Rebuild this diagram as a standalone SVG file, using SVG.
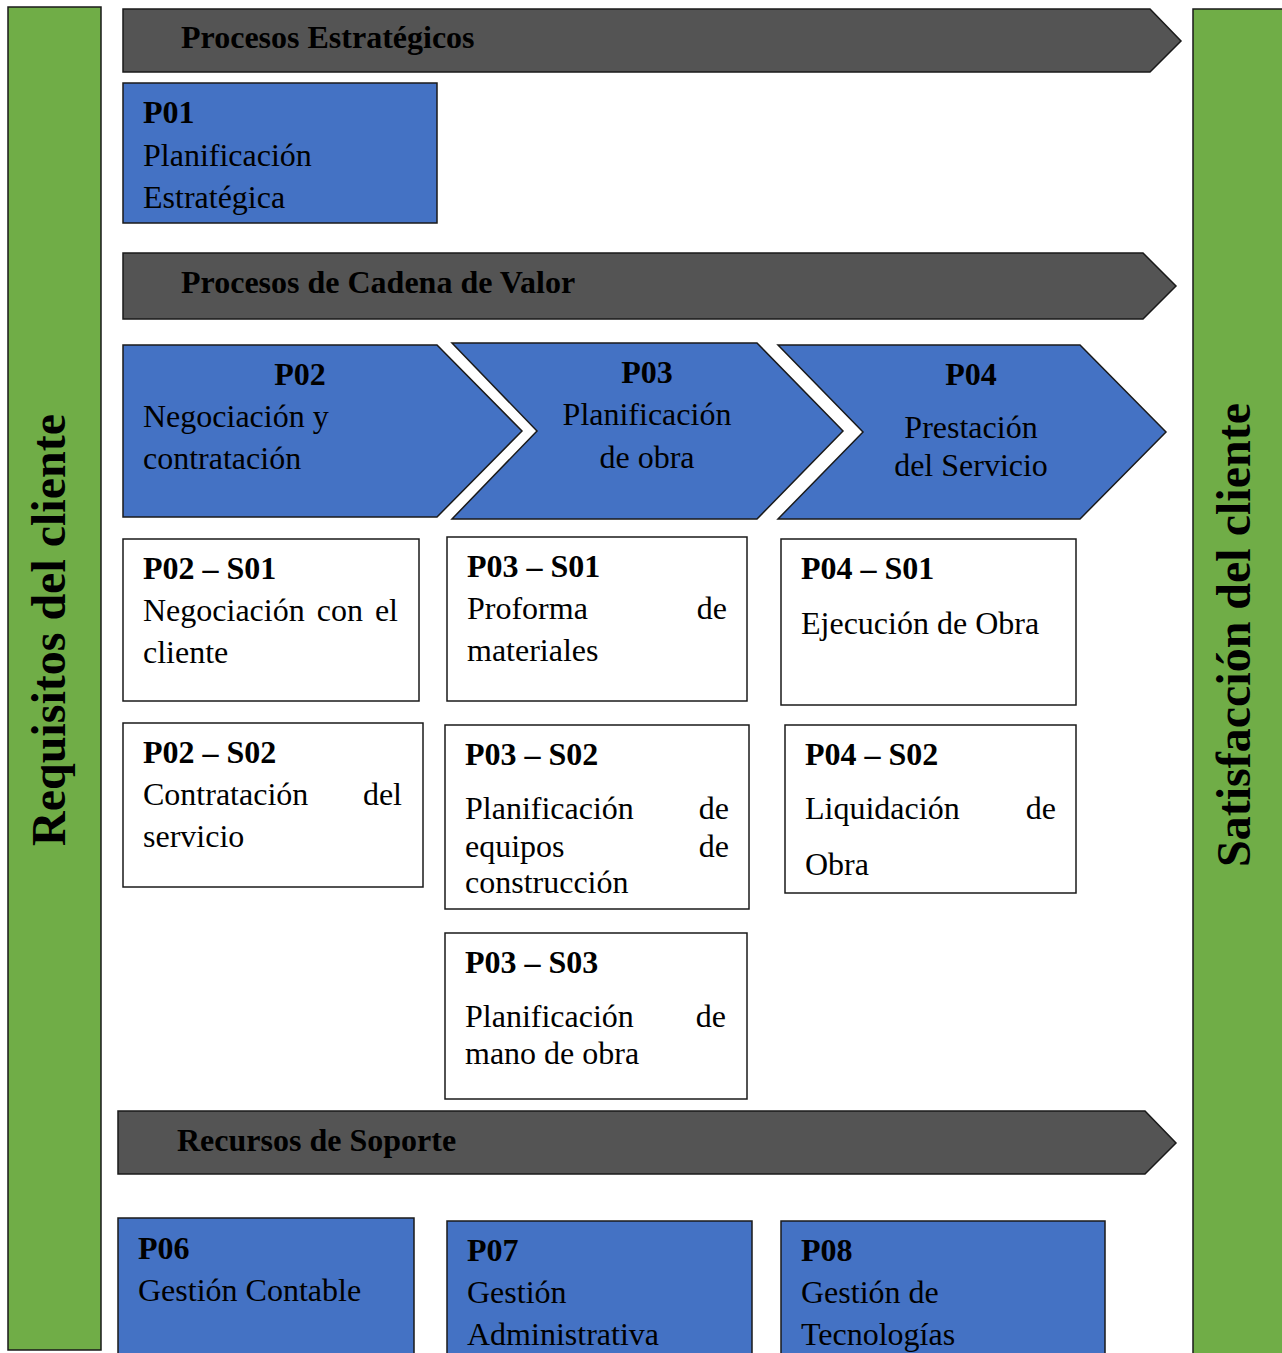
<svg xmlns="http://www.w3.org/2000/svg" width="1282" height="1353" viewBox="0 0 1282 1353">
<style>
text{font-family:"Liberation Serif","Times New Roman",serif;font-size:32px;fill:#000}
.b{font-weight:bold}
.m{text-anchor:middle}
.e{text-anchor:end}
.side{font-weight:bold;font-size:48px;text-anchor:middle}
.green{fill:#70AD47;stroke:#1a1a1a;stroke-width:1.5}
.gray{fill:#545454;stroke:#1a1a1a;stroke-width:1.5}
.blue{fill:#4472C4;stroke:#1a1a1a;stroke-width:1.5}
.white{fill:#fff;stroke:#1a1a1a;stroke-width:1.5}
</style>
<rect width="1282" height="1353" fill="#fff"/>
<g id="requisitos">
<rect class="green" x="8" y="7" width="93" height="1343"/>
<text class="side" transform="translate(65,630) rotate(-90)">Requisitos del cliente</text>
</g>
<g id="satisfaccion">
<rect class="green" x="1193" y="9" width="95" height="1350"/>
<text class="side" transform="translate(1250,635) rotate(-90)">Satisfacción del cliente</text>
</g>
<g id="estrategicos">
<polygon class="gray" points="123,9 1150,9 1181,41 1150,72 123,72"/>
<text class="b" x="181" y="48">Procesos Estratégicos</text>
</g>
<g id="p01">
<rect class="blue" x="123" y="83" width="314" height="140"/>
<text class="b" x="143" y="123">P01</text>
<text x="143" y="166">Planificación</text>
<text x="143" y="208">Estratégica</text>
</g>
<g id="cadena">
<polygon class="gray" points="123,253 1143,253 1176,286 1143,319 123,319"/>
<text class="b" x="181" y="293">Procesos de Cadena de Valor</text>
</g>
<g id="p02">
<polygon class="blue" points="123,345 437,345 522,431 437,517 123,517"/>
<text class="b m" x="300" y="385">P02</text>
<text x="143" y="427">Negociación y</text>
<text x="143" y="469">contratación</text>
</g>
<g id="p03">
<polygon class="blue" points="452,343 757,343 843,431 757,519 452,519 537,431"/>
<text class="b m" x="647" y="383">P03</text>
<text class="m" x="647" y="425">Planificación</text>
<text class="m" x="647" y="468">de obra</text>
</g>
<g id="p04">
<polygon class="blue" points="778,345 1080,345 1166,432 1080,519 778,519 863,432"/>
<text class="b m" x="971" y="385">P04</text>
<text class="m" x="971" y="438">Prestación</text>
<text class="m" x="971" y="476">del Servicio</text>
</g>
<g id="p02-s01">
<rect class="white" x="123" y="539" width="296" height="162"/>
<text class="b" x="143" y="579">P02 – S01</text>
<text x="143" y="621" word-spacing="4">Negociación con el</text>
<text x="143" y="663">cliente</text>
</g>
<g id="p03-s01">
<rect class="white" x="447" y="537" width="300" height="164"/>
<text class="b" x="467" y="577">P03 – S01</text>
<text x="467" y="619">Proforma</text>
<text class="e" x="727" y="619">de</text>
<text x="467" y="661">materiales</text>
</g>
<g id="p04-s01">
<rect class="white" x="781" y="539" width="295" height="166"/>
<text class="b" x="801" y="579">P04 – S01</text>
<text x="801" y="634">Ejecución de Obra</text>
</g>
<g id="p02-s02">
<rect class="white" x="123" y="723" width="300" height="164"/>
<text class="b" x="143" y="763">P02 – S02</text>
<text x="143" y="805">Contratación</text>
<text class="e" x="402" y="805">del</text>
<text x="143" y="847">servicio</text>
</g>
<g id="p03-s02">
<rect class="white" x="445" y="725" width="304" height="184"/>
<text class="b" x="465" y="765">P03 – S02</text>
<text x="465" y="819">Planificación</text>
<text class="e" x="729" y="819">de</text>
<text x="465" y="857">equipos</text>
<text class="e" x="729" y="857">de</text>
<text x="465" y="893">construcción</text>
</g>
<g id="p04-s02">
<rect class="white" x="785" y="725" width="291" height="168"/>
<text class="b" x="805" y="765">P04 – S02</text>
<text x="805" y="819">Liquidación</text>
<text class="e" x="1056" y="819">de</text>
<text x="805" y="875">Obra</text>
</g>
<g id="p03-s03">
<rect class="white" x="445" y="933" width="302" height="166"/>
<text class="b" x="465" y="973">P03 – S03</text>
<text x="465" y="1027">Planificación</text>
<text class="e" x="726" y="1027">de</text>
<text x="465" y="1064">mano de obra</text>
</g>
<g id="soporte">
<polygon class="gray" points="118,1111 1145,1111 1176,1143 1145,1174 118,1174"/>
<text class="b" x="177" y="1151">Recursos de Soporte</text>
</g>
<g id="p06">
<rect class="blue" x="118" y="1218" width="296" height="145"/>
<text class="b" x="138" y="1259">P06</text>
<text x="138" y="1301">Gestión Contable</text>
</g>
<g id="p07">
<rect class="blue" x="447" y="1221" width="305" height="142"/>
<text class="b" x="467" y="1261">P07</text>
<text x="467" y="1303">Gestión</text>
<text x="467" y="1345">Administrativa</text>
</g>
<g id="p08">
<rect class="blue" x="781" y="1221" width="324" height="142"/>
<text class="b" x="801" y="1261">P08</text>
<text x="801" y="1303">Gestión de</text>
<text x="801" y="1345">Tecnologías</text>
</g>
</svg>
